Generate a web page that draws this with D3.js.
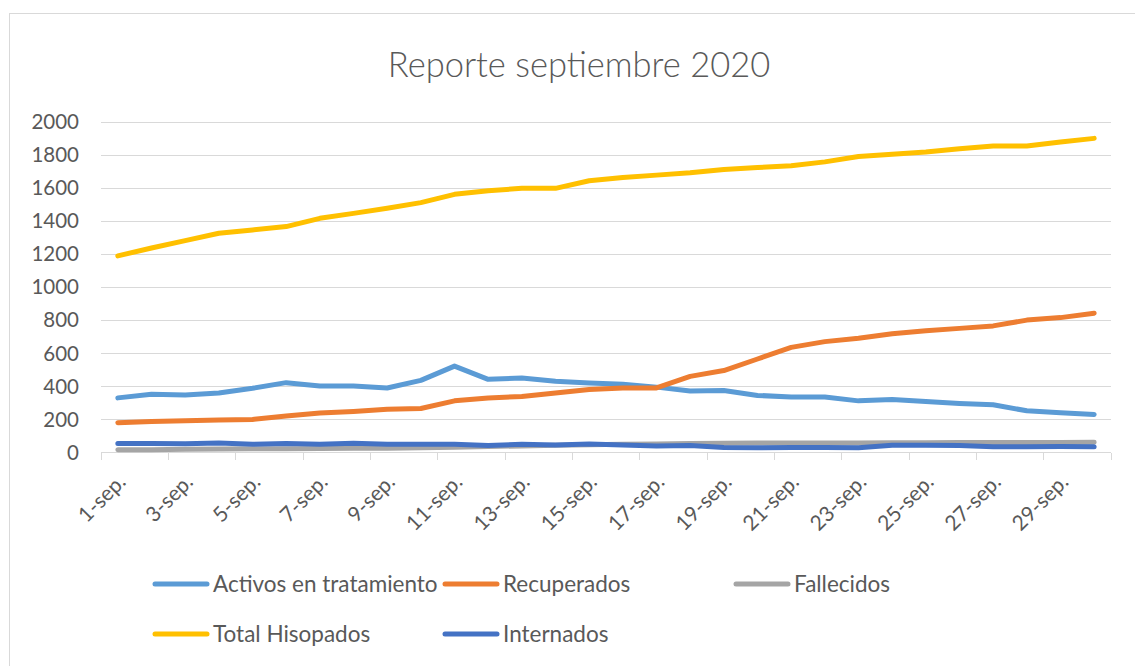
<!DOCTYPE html>
<html lang="es">
<head>
<meta charset="UTF-8">
<title>Reporte septiembre 2020</title>
<style>
  body { margin: 0; background: #fff; }
  svg text { font-family: Lato, "Open Sans", sans-serif; fill: #595959; }
  .grid line { stroke: #d9d9d9; stroke-width: 1; }
  .axis path, .axis line { stroke: #d9d9d9; shape-rendering: crispEdges; }
  .serie { fill: none; stroke-width: 5; stroke-linejoin: round; stroke-linecap: round; }
</style>
</head>
<body>
<script src="https://cdn.jsdelivr.net/npm/d3@7"></script>
<script>
// categorias: dias de septiembre
var dias = d3.range(1, 31).map(function (d) { return d + '-sep.' })

// valores
var activos = [330, 352, 348, 360, 388, 422, 402, 402, 390, 436,
               522, 442, 450, 430, 420, 412, 395, 372, 375, 345,
               335, 335, 312, 320, 308, 296, 288, 252, 240, 230]
var recuperados = [180, 188, 192, 196, 200, 220, 238, 248, 262, 266,
                   312, 330, 338, 360, 380, 390, 390, 460, 495, 565,
                   635, 670, 690, 718, 735, 750, 765, 800, 815, 842]
var fallecidos = [16, 17, 19, 21, 22, 23, 24, 25, 26, 28,
                  32, 36, 40, 44, 47, 50, 52, 55, 56, 57,
                  57, 58, 58, 59, 59, 60, 60, 61, 61, 62]
var hisopados = [1188, 1236, 1280, 1325, 1345, 1365, 1415, 1445, 1476, 1510,
                 1560, 1582, 1596, 1596, 1642, 1662, 1676, 1690, 1710, 1722,
                 1732, 1756, 1788, 1802, 1816, 1836, 1852, 1852, 1876, 1898]
var internados = [54, 54, 53, 58, 50, 54, 50, 56, 50, 50,
                  50, 42, 50, 46, 52, 46, 40, 42, 30, 28,
                  30, 30, 28, 44, 44, 42, 34, 34, 36, 34]

var yTicks = [0, 200, 400, 600, 800, 1000, 1200, 1400, 1600, 1800, 2000]

var series = [
  { nombre: 'Activos en tratamiento', valores: activos, color: '#5b9bd5' },
  { nombre: 'Recuperados', valores: recuperados, color: '#ed7d31' },
  { nombre: 'Fallecidos', valores: fallecidos, color: '#a5a5a5' },
  { nombre: 'Total Hisopados', valores: hisopados, color: '#ffc000' },
  { nombre: 'Internados', valores: internados, color: '#4472c4' }
]

var width = 1135, height = 666
var plot = { left: 101, right: 1111, top: 121.5, bottom: 452.5 }

var svg = d3.select('body').append('svg')
  .attr('width', width)
  .attr('height', height)

// borde del area del grafico
svg.append('rect')
  .attr('x', 9.5).attr('y', 13.5)
  .attr('width', width).attr('height', height)
  .attr('fill', 'none').attr('stroke', '#d9d9d9')

svg.append('text')
  .attr('x', 579).attr('y', 77)
  .attr('text-anchor', 'middle')
  .style('font-size', '34.5px')
  .style('font-weight', 300)
  .text('Reporte septiembre 2020')

var x = d3.scaleBand()
  .domain(dias)
  .range([plot.left, plot.right])

var y = d3.scaleLinear()
  .domain([0, 2000])
  .range([plot.bottom, plot.top])

// lineas de cuadricula
svg.append('g').attr('class', 'grid')
  .selectAll('line')
  .data(yTicks.filter(function (d) { return d > 0 }))
  .enter().append('line')
  .attr('x1', plot.left).attr('x2', plot.right)
  .attr('y1', function (d) { return Math.round(y(d)) + 0.5 })
  .attr('y2', function (d) { return Math.round(y(d)) + 0.5 })

// eje y (solo etiquetas)
svg.append('g')
  .selectAll('text')
  .data(yTicks)
  .enter().append('text')
  .attr('x', 79)
  .attr('y', function (d) { return y(d) })
  .attr('dy', '0.36em')
  .attr('text-anchor', 'end')
  .style('font-size', '20.5px')
  .text(function (d) { return d })

// eje x: marcas cada dos dias en los limites de categoria
var limites = d3.range(0, 31, 2).map(function (i) { return plot.left + i * x.step() })
var ejeX = svg.append('g').attr('class', 'axis')
ejeX.append('line')
  .attr('x1', plot.left).attr('x2', plot.right)
  .attr('y1', plot.bottom).attr('y2', plot.bottom)
ejeX.selectAll('.tick')
  .data(limites)
  .enter().append('line')
  .attr('x1', function (d) { return d }).attr('x2', function (d) { return d })
  .attr('y1', plot.bottom).attr('y2', plot.bottom + 7)

svg.append('g')
  .selectAll('text')
  .data(dias.filter(function (d, i) { return i % 2 === 0 }))
  .enter().append('text')
  .attr('transform', function (d) {
    return 'translate(' + (x(d) + x.bandwidth() / 2 + 4) + ',' + 478 + ') rotate(-45)'
  })
  .attr('text-anchor', 'end')
  .attr('dy', '0.35em')
  .style('font-size', '21px')
  .text(function (d) { return d })

// series
var linea = d3.line()
  .x(function (d, i) { return x(dias[i]) + x.bandwidth() / 2 })
  .y(function (d) { return y(d) })

svg.append('g')
  .selectAll('path')
  .data(series)
  .enter().append('path')
  .attr('class', 'serie')
  .attr('stroke', function (d) { return d.color })
  .attr('d', function (d) { return linea(d.valores) })

// leyenda
var posLeyenda = [[155, 584], [445, 584], [736, 584], [155, 634], [445, 634]]
var leyenda = svg.append('g')
  .selectAll('g')
  .data(series)
  .enter().append('g')
  .attr('transform', function (d, i) { return 'translate(' + posLeyenda[i][0] + ',' + posLeyenda[i][1] + ')' })
leyenda.append('line')
  .attr('x1', 0).attr('x2', 52)
  .attr('stroke', function (d) { return d.color })
  .attr('stroke-width', 5)
  .attr('stroke-linecap', 'round')
leyenda.append('text')
  .attr('x', 58)
  .attr('dy', '0.36em')
  .style('font-size', '22.5px')
  .text(function (d) { return d.nombre })
</script>
</body>
</html>
